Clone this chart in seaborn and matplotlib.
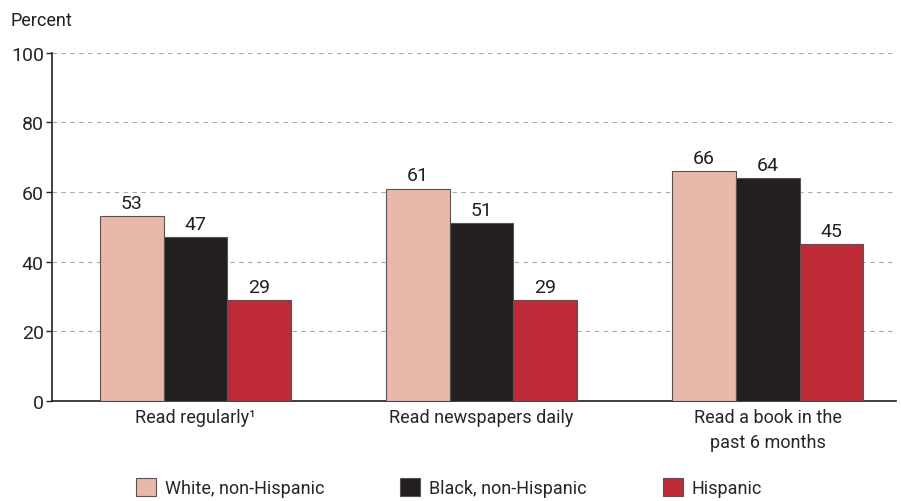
import matplotlib
matplotlib.use("Agg")
import matplotlib.pyplot as plt
import seaborn as sns
import pandas as pd

categories = ["Read regularly¹", "Read newspapers daily", "Read a book in the\npast 6 months"]
groups = ["White, non-Hispanic", "Black, non-Hispanic", "Hispanic"]
white = [53, 61, 66]
black = [47, 51, 64]
hispanic = [29, 29, 45]
colors = ["#E8B8AA", "#231F20", "#BE2A36"]

rows = []
for g, vals in zip(groups, [white, black, hispanic]):
    for c, v in zip(categories, vals):
        rows.append({"category": c, "group": g, "value": v})
df = pd.DataFrame(rows)

sns.set_style("white")
plt.rcParams["font.family"] = ["Roboto", "DejaVu Sans"]

fig = plt.figure(figsize=[9.01, 5.02], dpi=100, facecolor="white")
ax = fig.add_axes([0.058, 0.199, 0.937, 0.694])

sns.barplot(data=df, x="category", y="value", hue="group", order=categories,
            hue_order=groups, palette=colors, saturation=1, width=0.667, gap=0,
            edgecolor="#555555", linewidth=0.8, ax=ax, zorder=3)

for cont in ax.containers:
    ax.bar_label(cont, fontsize=14, padding=3, color="#231F20")

ax.set_ylim(0, 100)
ax.set_xlim(-0.5, 2.45)
ax.set_yticks([0, 20, 40, 60, 80, 100])
ax.yaxis.grid(True, linestyle=(0, (4, 4)), color="#AAAAAA", linewidth=0.8, zorder=0)
ax.set_axisbelow(True)
for s in ["top", "right"]:
    ax.spines[s].set_visible(False)
for s in ["left", "bottom"]:
    ax.spines[s].set_color("#231F20")
    ax.spines[s].set_linewidth(1.2)
ax.tick_params(axis="y", length=4, width=1, labelsize=14, left=True, pad=2)
ax.tick_params(axis="x", length=0, labelsize=13, pad=5)
for lbl in ax.get_xticklabels():
    lbl.set_linespacing(1.5)
ax.set_xlabel("")
ax.set_ylabel("")
fig.text(0.012, 0.948, "Percent", fontsize=13, ha="left", va="baseline", color="#231F20")

leg = ax.legend(loc="upper center", bbox_to_anchor=(0.47, -0.175), ncol=3, frameon=False,
                fontsize=13, handlelength=1.1, handleheight=1.1, columnspacing=4.2,
                handletextpad=0.5)
for h in leg.legend_handles:
    h.set_edgecolor("#555555")

fig.savefig("out.png", dpi=100, facecolor="white")
